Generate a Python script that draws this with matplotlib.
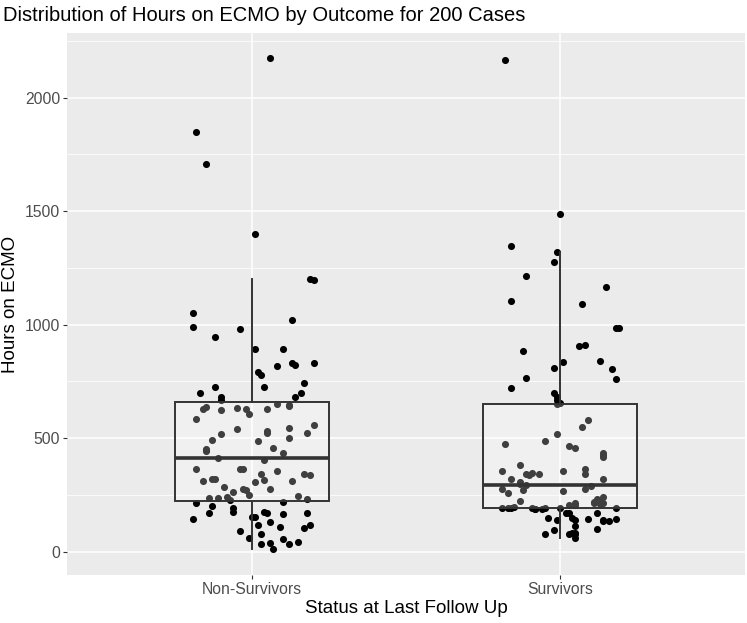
import matplotlib
matplotlib.use("Agg")
import matplotlib.pyplot as plt
import numpy as np

# groups on the x axis
categories = ["Non-Survivors", "Survivors"]

# hours on ECMO, with the horizontal jitter seen for each point
nonsurv_hours = [2176, 1847, 1706, 1399, 1200, 1195, 1053, 991, 1019, 944, 980, 892, 892, 818,
                 830, 822, 830, 793, 778, 743, 725, 725, 700, 698, 680, 668, 683,
                 627, 639, 624, 634, 627, 605, 627, 649, 646, 583, 540, 520, 524, 546, 502, 524,
                 557, 492, 489, 452, 448, 457, 433, 413, 404, 364, 363, 363, 342, 357, 344, 338,
                 313, 320, 320, 307, 316, 313, 286, 262, 275, 272, 250, 275, 247, 237, 235, 240,
                 228, 231,
                 213, 219, 201, 191, 174, 169, 176, 172, 166, 172, 144, 152, 152, 118, 132, 110,
                 104, 116, 90, 78, 60, 55, 34, 43, 34, 40, 11,
                 640, 445, 530]
nonsurv_jitter = [0.06, -0.18, -0.15, 0.01, 0.19, 0.20, -0.19, -0.19, 0.13, -0.12, -0.04, 0.01, 0.10, 0.08,
                  0.13, 0.14, 0.20, 0.02, 0.03, 0.17, -0.12, 0.04, 0.16, -0.17, -0.10, -0.10, 0.14,
                  -0.16, -0.15, -0.10, -0.05, -0.02, -0.01, 0.05, 0.08, 0.12, -0.18, -0.05, -0.10, 0.05, 0.12, 0.12, 0.18,
                  0.20, -0.13, 0.02, -0.15, -0.15, 0.07, 0.10, -0.11, 0.04, -0.18, -0.04, -0.03, 0.03, 0.08, 0.17, 0.19,
                  -0.16, -0.13, -0.12, 0.01, 0.04, 0.13, -0.09, -0.06, -0.03, -0.02, -0.01, 0.06, 0.15, -0.14, -0.11, -0.08,
                  -0.07, 0.18,
                  -0.18, 0.10, -0.13, -0.06, -0.06, -0.14, 0.04, 0.05, 0.10, 0.18, -0.19, 0.00, 0.01, 0.02, 0.06, 0.09,
                  0.17, 0.19, -0.04, 0.03, -0.01, 0.10, 0.12, 0.15, 0.03, 0.06, 0.07,
                  0.12, -0.15, 0.05]

surv_hours = [2166, 1488, 1347, 1320, 1277, 1214, 1167, 1104, 1092, 987, 984, 885, 906, 910, 837, 841,
              809, 806, 765, 761, 720, 698, 680, 668,
              580, 547, 517, 488, 473, 467, 458, 436, 416, 383, 357, 356, 363, 341, 345, 338, 340,
              320, 308, 295, 272, 319, 289, 275, 275, 260, 266, 225, 216, 204, 220, 231, 240, 213, 210,
              191, 192, 198, 191, 187, 194, 194, 172, 169, 194,
              147, 140, 140, 115, 144, 169, 137, 137, 143, 99, 96, 78, 78, 81, 84, 60,
              225, 215, 190, 150, 192, 140, 78, 205, 340, 425, 300, 655, 650, 190]
surv_jitter = [-0.18, 0.00, -0.16, -0.01, -0.02, -0.11, 0.15, -0.16, 0.07, 0.18, 0.19, -0.12, 0.06, 0.08, 0.01, 0.13,
               -0.02, 0.17, -0.11, 0.18, -0.16, -0.02, -0.01, -0.01,
               0.09, 0.07, -0.01, -0.05, -0.18, 0.03, 0.05, 0.14, 0.14, -0.13, -0.19, 0.01, 0.08, 0.08, -0.09, -0.10, -0.07,
               -0.16, -0.13, -0.11, -0.12, 0.14, 0.10, 0.08, -0.19, -0.17, 0.01, -0.13, 0.05, 0.05, 0.11, 0.12, 0.14, 0.14, 0.13,
               -0.19, -0.16, -0.15, -0.09, -0.08, -0.05, 0.00, 0.02, 0.03, 0.18,
               -0.04, -0.01, 0.05, 0.05, 0.09, 0.12, 0.14, 0.16, 0.18, 0.12, -0.02, -0.05, 0.03, 0.04, 0.05, 0.05,
               0.13, 0.11, -0.08, 0.04, -0.17, 0.14, 0.05, 0.03, -0.11, 0.14, -0.13, 0.00, -0.01, -0.06]

y_ticks = [0, 500, 1000, 1500, 2000]
y_minor = [250, 750, 1250, 1750, 2250]


def make_graph() -> None:
    plt.rcParams["font.family"] = ["Liberation Sans", "DejaVu Sans"]
    fig = plt.figure(figsize=(7.47, 6.23), dpi=100)
    ax = fig.add_axes([0.0897, 0.077, 0.9076, 0.870])

    ax.set_facecolor("#EBEBEB")
    for side in ax.spines.values():
        side.set_visible(False)

    groups = [nonsurv_hours, surv_hours]
    jitters = [nonsurv_jitter, surv_jitter]
    positions = np.arange(1, len(categories) + 1)

    for pos, hours, jit in zip(positions, groups, jitters):
        ax.scatter(pos + np.array(jit), hours, s=26, color="black",
                   linewidths=0, zorder=3)

    line = dict(color="#333333", linewidth=1.4)
    ax.boxplot(groups, positions=positions, widths=0.5, patch_artist=True,
               showfliers=False, showcaps=False, whis=1.5,
               boxprops=dict(facecolor=(1, 1, 1, 0.25), edgecolor="#333333", linewidth=1.4),
               whiskerprops=line,
               medianprops=dict(color="#333333", linewidth=2.6),
               zorder=4)

    ax.set_xlim(0.4, 2.6)
    ax.set_ylim(-103, 2285)
    ax.set_xticks(positions)
    ax.set_xticklabels(categories)
    ax.set_yticks(y_ticks)
    ax.set_yticks(y_minor, minor=True)

    ax.grid(True, which="major", color="white", linewidth=1.1, zorder=0)
    ax.grid(True, which="minor", axis="y", color="white", linewidth=0.55, zorder=0)
    ax.set_axisbelow(True)

    ax.tick_params(axis="both", which="major", length=3, width=0.8, color="#333333",
                   labelsize=11.3, labelcolor="#4D4D4D", pad=2)
    ax.tick_params(axis="y", which="minor", length=0)

    fig.text(0.004, 0.975, "Distribution of Hours on ECMO by Outcome for 200 Cases",
             fontsize=14.5, ha="left", va="center")
    fig.text(0.0145, 0.512, "Hours on ECMO", rotation=90, fontsize=13.5,
             ha="center", va="center")
    fig.text(0.5435, 0.024, "Status at Last Follow Up", fontsize=13.5,
             ha="center", va="center")

    fig.savefig("out.png", dpi=100)


def main():
    make_graph()


if __name__ == "__main__":
    main()
